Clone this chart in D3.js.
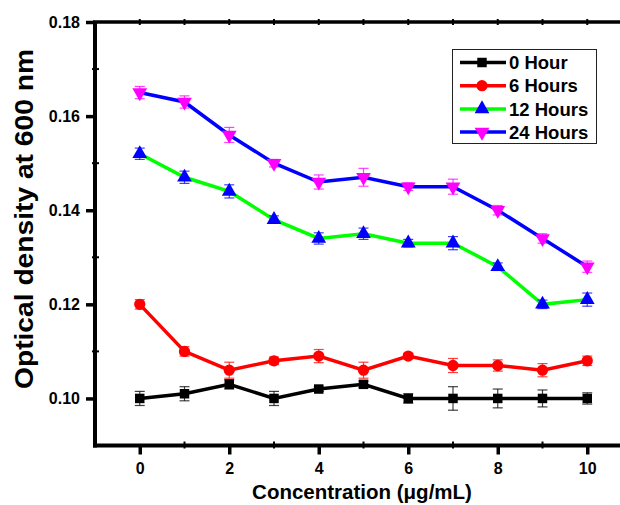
<!DOCTYPE html>
<html>
<head>
<meta charset="utf-8">
<script src="https://cdn.jsdelivr.net/npm/d3@7"></script>
<style>
    body { margin: 0; background: #fff; }
    text { font-family: Arial, "Liberation Sans", sans-serif; font-weight: bold; fill: #000; }
</style>
</head>
<body>
<div id="chart"></div>
<script>
// concentration (µg/mL)
const concentrations = [0, 1, 2, 3, 4, 5, 6, 7, 8, 9, 10];

// optical density per time point
const hour0  = [0.100, 0.101, 0.103, 0.100, 0.102, 0.103, 0.100, 0.100, 0.100, 0.100, 0.100];
const hour6  = [0.120, 0.110, 0.106, 0.108, 0.109, 0.106, 0.109, 0.107, 0.107, 0.106, 0.108];
const hour12 = [0.152, 0.147, 0.144, 0.138, 0.134, 0.135, 0.133, 0.133, 0.128, 0.120, 0.121];
const hour24 = [0.165, 0.163, 0.156, 0.150, 0.146, 0.147, 0.145, 0.145, 0.140, 0.134, 0.128];

// error (+/-)
const hour0Err  = [0.0015, 0.0015, 0.0010, 0.0015, 0.0005, 0.0007, 0.0010, 0.0025, 0.0020, 0.0018, 0.0012];
const hour6Err  = [0.0010, 0.0010, 0.0017, 0.0008, 0.0014, 0.0017, 0.0006, 0.0015, 0.0012, 0.0014, 0.0010];
const hour12Err = [0.0012, 0.0013, 0.0014, 0.0008, 0.0012, 0.0012, 0.0008, 0.0014, 0.0008, 0.0009, 0.0014];
const hour24Err = [0.0013, 0.0013, 0.0016, 0.0008, 0.0015, 0.0019, 0.0008, 0.0016, 0.0010, 0.0010, 0.0012];

const seriesNames = ["0 Hour", "6 Hours", "12 Hours", "24 Hours"];

const xTicks = [0, 2, 4, 6, 8, 10];
const yTicks = [0.10, 0.12, 0.14, 0.16, 0.18];

class LineChart {
    constructor(parentElement) {
        this.parentElement = parentElement;
        this.series = [
            {name: seriesNames[0], values: hour0,  errors: hour0Err,  line: "#000000", marker: "#000000", symbol: "square"},
            {name: seriesNames[1], values: hour6,  errors: hour6Err,  line: "#ff0000", marker: "#ff0000", symbol: "circle"},
            {name: seriesNames[2], values: hour12, errors: hour12Err, line: "#00ff00", marker: "#0000ff", symbol: "up"},
            {name: seriesNames[3], values: hour24, errors: hour24Err, line: "#0000ff", marker: "#ff00ff", symbol: "down"}
        ];
        this.initVis();
    }

    initVis() {
        let vis = this;

        vis.width = 620;
        vis.height = 505;

        vis.svg = d3.select("#" + vis.parentElement).append("svg")
            .attr("width", vis.width)
            .attr("height", vis.height);

        // scales (right edge of the frame is outside the picture)
        vis.x = d3.scaleLinear().domain([-1, 11]).range([95, 632]);
        vis.y = d3.scaleLinear().domain([0.09, 0.18]).range([445.5, 22]);

        vis.drawAxes();
        vis.drawSeries();
        vis.drawLegend();
    }

    drawAxes() {
        let vis = this;

        // bottom axis
        let xAxis = d3.axisBottom(vis.x).tickValues(xTicks).tickSize(9).tickPadding(4)
            .tickFormat(d3.format("d"));
        let gx = vis.svg.append("g")
            .attr("transform", `translate(0, ${vis.y.range()[0]})`)
            .call(xAxis);
        gx.select(".domain").attr("stroke-width", 4).attr("d", `M${vis.x.range()[0] - 2},0H${vis.x.range()[1]}`);
        gx.selectAll(".tick line").attr("stroke-width", 3.5);
        gx.selectAll(".tick text").attr("font-size", 16).attr("dy", "0.95em");

        // minor ticks bottom
        vis.svg.append("g").selectAll("line")
            .data([1, 3, 5, 7, 9, 11])
            .join("line")
            .attr("x1", d => vis.x(d)).attr("x2", d => vis.x(d))
            .attr("y1", vis.y.range()[0] - 4).attr("y2", vis.y.range()[0] + 3)
            .attr("stroke", "#000").attr("stroke-width", 2);

        // left axis
        let yAxis = d3.axisLeft(vis.y).tickValues(yTicks).tickSize(9).tickPadding(6)
            .tickFormat(d3.format(".2f"));
        let gy = vis.svg.append("g")
            .attr("transform", `translate(${vis.x.range()[0]}, 0)`)
            .call(yAxis);
        gy.select(".domain").attr("stroke-width", 4).attr("d", `M0,${vis.y.range()[1] - 1}V${vis.y.range()[0] + 2}`);
        gy.selectAll(".tick line").attr("stroke-width", 3.5);
        gy.selectAll(".tick text").attr("font-size", 16);

        // minor ticks left
        vis.svg.append("g").selectAll("line")
            .data([0.11, 0.13, 0.15, 0.17])
            .join("line")
            .attr("x1", vis.x.range()[0] - 3).attr("x2", vis.x.range()[0] + 4)
            .attr("y1", d => vis.y(d)).attr("y2", d => vis.y(d))
            .attr("stroke", "#000").attr("stroke-width", 2);

        // top frame
        vis.svg.append("line")
            .attr("x1", vis.x.range()[0] - 2).attr("x2", vis.x.range()[1])
            .attr("y1", vis.y.range()[1]).attr("y2", vis.y.range()[1])
            .attr("stroke", "#000").attr("stroke-width", 3.5);
        vis.svg.append("g").selectAll("line")
            .data(d3.range(0, 12))
            .join("line")
            .attr("x1", d => vis.x(d)).attr("x2", d => vis.x(d))
            .attr("y1", vis.y.range()[1] - 3).attr("y2", vis.y.range()[1] + 3)
            .attr("stroke", "#000").attr("stroke-width", 2);

        // titles
        vis.svg.append("text")
            .attr("x", 362).attr("y", 499)
            .attr("text-anchor", "middle")
            .attr("font-size", 20.5)
            .text("Concentration (\u03bcg/mL)");

        vis.svg.append("text")
            .attr("transform", "translate(33, 219) rotate(-90)")
            .attr("text-anchor", "middle")
            .attr("font-size", 26)
            .attr("textLength", 340)
            .attr("lengthAdjust", "spacingAndGlyphs")
            .text("Optical density at 600 nm");
    }

    symbolPath(type) {
        if (type === "square") return d3.symbol(d3.symbolSquare, 90)();
        if (type === "circle") return d3.symbol(d3.symbolCircle, 100)();
        return d3.symbol(d3.symbolTriangle, 95)();
    }

    drawSeries() {
        let vis = this;

        let line = d3.line()
            .x((d, i) => vis.x(concentrations[i]))
            .y(d => vis.y(d));

        vis.series.forEach(s => {
            let g = vis.svg.append("g").attr("class", "series");

            g.append("path")
                .attr("d", line(s.values))
                .attr("fill", "none")
                .attr("stroke", s.line)
                .attr("stroke-width", 3.5);

            // error bars
            let eb = g.selectAll(".err")
                .data(s.values)
                .join("g")
                .attr("class", "err")
                .attr("stroke", s.marker)
                .attr("stroke-opacity", 0.75)
                .attr("stroke-width", 1.2);
            eb.append("line")
                .attr("x1", (d, i) => vis.x(concentrations[i])).attr("x2", (d, i) => vis.x(concentrations[i]))
                .attr("y1", (d, i) => vis.y(d + s.errors[i])).attr("y2", (d, i) => vis.y(d - s.errors[i]));
            eb.append("line")
                .attr("x1", (d, i) => vis.x(concentrations[i]) - 5).attr("x2", (d, i) => vis.x(concentrations[i]) + 5)
                .attr("y1", (d, i) => vis.y(d + s.errors[i])).attr("y2", (d, i) => vis.y(d + s.errors[i]));
            eb.append("line")
                .attr("x1", (d, i) => vis.x(concentrations[i]) - 5).attr("x2", (d, i) => vis.x(concentrations[i]) + 5)
                .attr("y1", (d, i) => vis.y(d - s.errors[i])).attr("y2", (d, i) => vis.y(d - s.errors[i]));

            // markers
            g.selectAll(".marker")
                .data(s.values)
                .join("path")
                .attr("class", "marker")
                .attr("d", vis.symbolPath(s.symbol))
                .attr("fill", s.marker)
                .attr("transform", (d, i) => `translate(${vis.x(concentrations[i])}, ${vis.y(d)})` + (s.symbol === "down" ? " rotate(180)" : ""));
        });
    }

    drawLegend() {
        let vis = this;

        let legend = vis.svg.append("g").attr("class", "legend");

        legend.append("rect")
            .attr("x", 452.5).attr("y", 49.5)
            .attr("width", 144).attr("height", 94)
            .attr("fill", "#fff")
            .attr("stroke", "#222")
            .attr("stroke-width", 1);

        let rows = legend.selectAll(".row")
            .data(vis.series)
            .join("g")
            .attr("class", "row")
            .attr("transform", (d, i) => `translate(0, ${62.5 + i * 23.2})`);

        rows.append("line")
            .attr("x1", 460).attr("x2", 506)
            .attr("stroke", d => d.line)
            .attr("stroke-width", 3.5);

        rows.append("path")
            .attr("d", d => vis.symbolPath(d.symbol))
            .attr("fill", d => d.marker)
            .attr("transform", d => "translate(482, 0)" + (d.symbol === "down" ? " rotate(180)" : ""));

        rows.append("text")
            .attr("x", 509).attr("y", 0)
            .attr("dy", "0.36em")
            .attr("font-size", 18.5)
            .text(d => d.name);
    }
}

new LineChart("chart");
</script>
</body>
</html>
